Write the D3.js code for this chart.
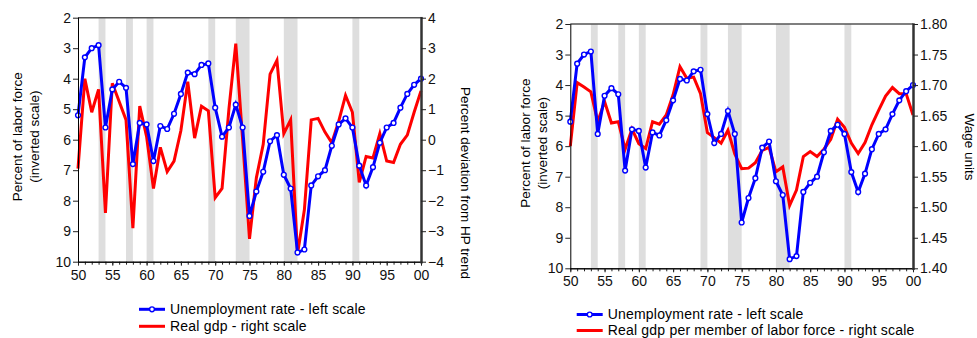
<!DOCTYPE html>
<html>
<head>
<meta charset="utf-8">
<script src="https://cdn.jsdelivr.net/npm/d3@7"></script>
<style>
  body { margin: 0; background: #fff; }
  svg { display: block; font-family: "Liberation Sans", Arial, sans-serif; }
  .tick text { font-size: 14px; fill: #111; }
</style>
</head>
<body>
<div id="chart"></div>
<script>
// years 1950..2000
var years = d3.range(1950, 2001);
var yearLabels = ["50","55","60","65","70","75","80","85","90","95","00"];
var recessions = [[1953,1954],[1957,1958],[1960,1961],[1969,1970],[1973,1975],[1980,1982],[1990,1991]];

// unemployment rate (percent), same on both panels
var unemp = [5.2,3.3,3.0,2.9,5.6,4.35,4.1,4.3,6.8,5.45,5.5,6.7,5.55,5.65,5.15,4.5,3.8,3.85,3.55,3.5,
  4.95,5.9,5.6,4.85,5.6,8.5,7.7,7.05,6.05,5.85,7.15,7.6,9.7,9.6,7.5,7.2,7.0,6.2,5.5,5.3,
  5.6,6.85,7.5,6.9,6.1,5.6,5.45,4.95,4.5,4.2,4.0];

// real gdp, percent deviation from HP trend
var gdpDev = [-0.95,2.0,0.9,1.65,-2.4,1.85,1.25,0.65,-2.9,1.1,0.1,-1.6,-0.25,-1.05,-0.7,0.3,1.9,0.05,1.1,0.95,
  -1.9,-1.6,1.0,3.15,0.0,-3.25,-1.25,-0.15,2.15,2.6,0.2,0.65,-3.75,-2.3,0.65,0.7,0.25,-0.1,0.6,1.45,
  0.9,-1.4,-0.55,-0.6,0.2,-0.7,-0.75,-0.15,0.15,0.9,1.6];

// real gdp per member of labor force, wage units
var gdpPerLf = [1.600,1.704,1.697,1.689,1.640,1.673,1.638,1.640,1.595,1.628,1.604,1.596,1.640,1.636,1.651,1.684,1.730,1.711,1.713,1.686,
  1.622,1.614,1.605,1.626,1.587,1.563,1.564,1.573,1.593,1.598,1.558,1.566,1.503,1.528,1.583,1.591,1.583,1.595,1.611,1.644,
  1.631,1.605,1.588,1.606,1.635,1.659,1.682,1.696,1.686,1.686,1.651];

var leftTicks = [2,3,4,5,6,7,8,9,10];
var devTicks = [-4,-3,-2,-1,0,1,2,3,4];
var wageTicks = [1.40,1.45,1.50,1.55,1.60,1.65,1.70,1.75,1.80];

var svg = d3.select('#chart').append('svg')
  .attr('width', 977)
  .attr('height', 338);

function panel(cfg) {
  var g = svg.append('g');
  var x = d3.scaleLinear().domain([1950, 2000]).range([cfg.x0, cfg.x1]);
  var yl = d3.scaleLinear().domain([2, 10]).range([cfg.y0, cfg.y1]);
  var yr = d3.scaleLinear().domain(cfg.rDomain).range([cfg.y1, cfg.y0]);

  // recession shading
  g.selectAll('.band').data(recessions).enter().append('rect')
    .attr('x', function(d) { return x(d[0]); })
    .attr('y', cfg.y0)
    .attr('width', function(d) { return x(d[1]) - x(d[0]); })
    .attr('height', cfg.y1 - cfg.y0)
    .attr('fill', '#dedede');

  // top border
  g.append('line')
    .attr('x1', cfg.x0).attr('x2', cfg.x1)
    .attr('y1', cfg.y0).attr('y2', cfg.y0)
    .attr('stroke', '#555').attr('stroke-width', 1.5);

  var red = d3.line()
    .x(function(d, i) { return x(years[i]); })
    .y(function(d) { return yr(d); });
  g.append('path')
    .datum(cfg.red)
    .attr('d', red)
    .attr('fill', 'none')
    .attr('stroke', '#ff0000')
    .attr('stroke-width', 3);

  var blue = d3.line()
    .x(function(d, i) { return x(years[i]); })
    .y(function(d) { return yl(d); });
  g.append('path')
    .datum(unemp)
    .attr('d', blue)
    .attr('fill', 'none')
    .attr('stroke', '#0000ff')
    .attr('stroke-width', 3);
  g.selectAll('.pt').data(unemp).enter().append('circle')
    .attr('cx', function(d, i) { return x(years[i]); })
    .attr('cy', function(d) { return yl(d); })
    .attr('r', 2.4)
    .attr('fill', '#fff')
    .attr('stroke', '#0000ff')
    .attr('stroke-width', 1.4);

  // axes
  var xMinor = d3.axisBottom(x).tickValues(years).tickSize(3).tickFormat('').tickSizeOuter(0);
  g.append('g').attr('transform', 'translate(0,' + cfg.y1 + ')').call(xMinor);
  var xMajor = d3.axisBottom(x)
    .tickValues(d3.range(1950, 2001, 5))
    .tickSize(4).tickPadding(4).tickSizeOuter(0)
    .tickFormat(function(d, i) { return yearLabels[i]; });
  g.append('g').attr('transform', 'translate(0,' + cfg.y1 + ')').call(xMajor);

  var lAx = d3.axisLeft(yl).tickValues(leftTicks).tickSize(5).tickPadding(2).tickSizeOuter(0);
  g.append('g').attr('transform', 'translate(' + cfg.x0 + ',0)').call(lAx);

  var rAx = d3.axisRight(yr).tickValues(cfg.rTicks).tickSize(5).tickPadding(2).tickSizeOuter(0)
    .tickFormat(cfg.rFormat);
  var ra = g.append('g').attr('transform', 'translate(' + cfg.x1 + ',0)').call(rAx);
  ra.select('.domain').attr('stroke', '#333').attr('stroke-width', 2.5);

  g.selectAll('.domain').attr('stroke-linecap', 'square');
  g.selectAll('.tick line').attr('stroke', '#222');

  // axis titles
  var cy = (cfg.y0 + cfg.y1) / 2 - 3;
  var lt = g.append('text')
    .attr('transform', 'translate(' + cfg.lTitleX + ',' + cy + ') rotate(-90)')
    .attr('text-anchor', 'middle')
    .style('font-size', '13.5px');
  lt.append('tspan').attr('x', 0).attr('y', 0).text('Percent of labor force');
  lt.append('tspan').attr('x', 0).attr('y', 17).text('(inverted scale)');

  g.append('text')
    .attr('transform', 'translate(' + cfg.rTitleX + ',' + cfg.rTitleY + ') rotate(90)')
    .attr('text-anchor', 'middle')
    .style('font-size', '13.5px')
    .text(cfg.rTitle);

  // legend
  var lg = g.append('g').style('font-size', '14px').style('letter-spacing', '0.2px');
  lg.append('line')
    .attr('x1', cfg.legX).attr('x2', cfg.legX + 26)
    .attr('y1', cfg.legY).attr('y2', cfg.legY)
    .attr('stroke', '#0000ff').attr('stroke-width', 3);
  lg.append('circle')
    .attr('cx', cfg.legX + 13).attr('cy', cfg.legY).attr('r', 2.4)
    .attr('fill', '#fff').attr('stroke', '#0000ff').attr('stroke-width', 1.4);
  lg.append('text')
    .attr('x', cfg.legX + 31).attr('y', cfg.legY).attr('dy', '0.35em')
    .text('Unemployment rate - left scale');
  lg.append('line')
    .attr('x1', cfg.legX).attr('x2', cfg.legX + 26)
    .attr('y1', cfg.legY + cfg.legGap).attr('y2', cfg.legY + cfg.legGap)
    .attr('stroke', '#ff0000').attr('stroke-width', 3);
  lg.append('text')
    .attr('x', cfg.legX + 31).attr('y', cfg.legY + cfg.legGap).attr('dy', '0.35em')
    .text(cfg.redLabel);
}

panel({
  x0: 78, x1: 421, y0: 17.7, y1: 261.7,
  rDomain: [-4, 4], rTicks: devTicks, rFormat: d3.format('d'),
  red: gdpDev,
  lTitleX: 22, rTitleX: 461, rTitleY: 183,
  rTitle: 'Percent deviation from HP trend',
  legX: 139, legY: 309.3, legGap: 17,
  redLabel: 'Real gdp - right scale'
});

panel({
  x0: 570.3, x1: 913, y0: 24, y1: 268.3,
  rDomain: [1.40, 1.80], rTicks: wageTicks, rFormat: d3.format('.2f'),
  red: gdpPerLf,
  lTitleX: 530, rTitleX: 965, rTitleY: 147,
  rTitle: 'Wage units',
  legX: 576.7, legY: 314.5, legGap: 16,
  redLabel: 'Real gdp per member of labor force - right scale'
});
</script>
</body>
</html>
